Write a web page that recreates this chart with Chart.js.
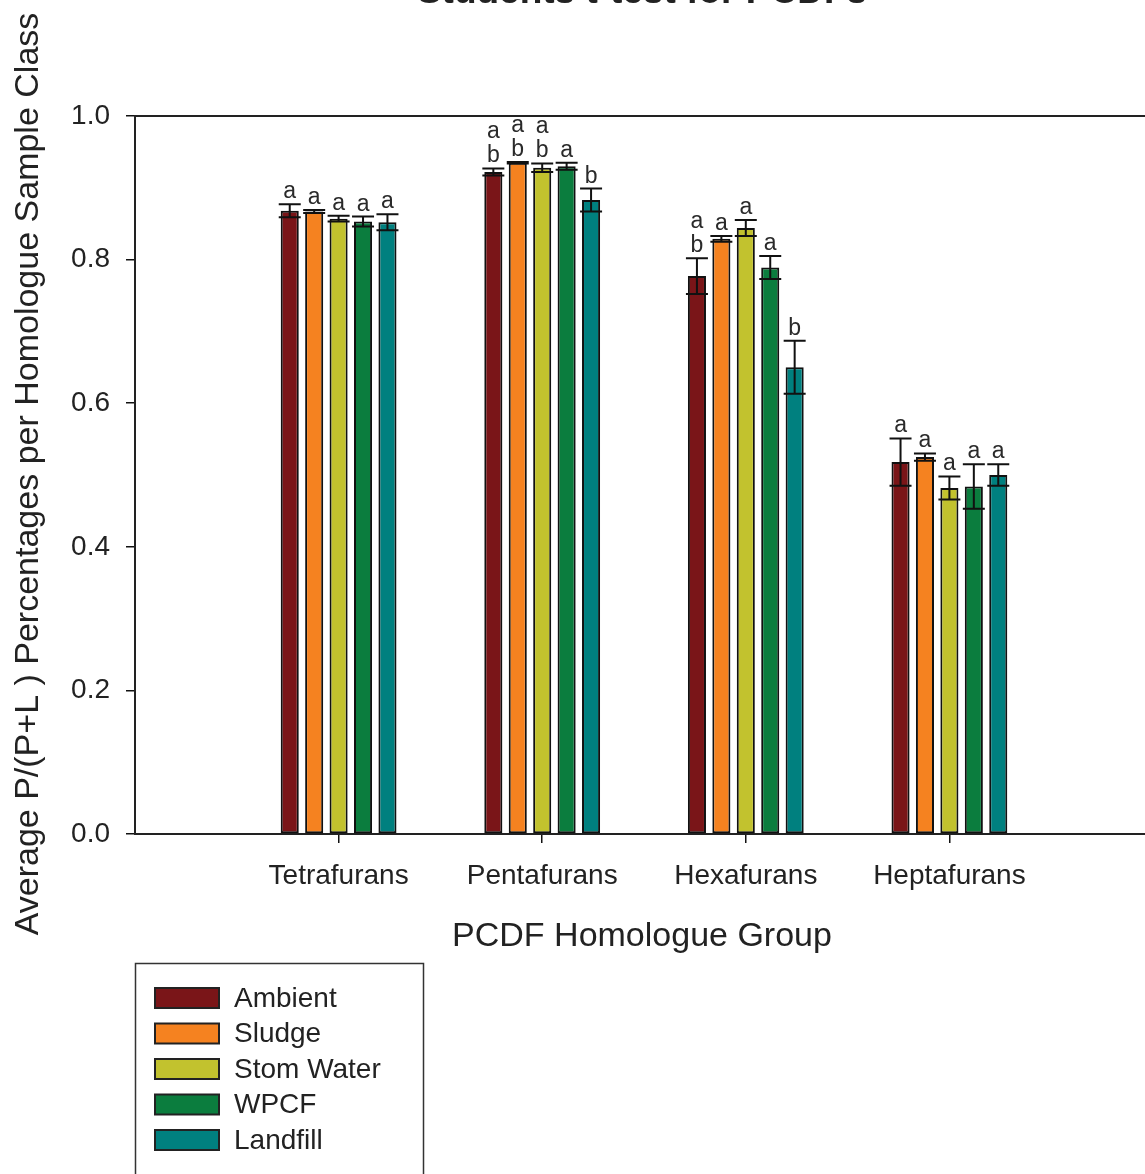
<!DOCTYPE html>
<html>
<head>
<meta charset="utf-8">
<script src="https://cdn.jsdelivr.net/npm/chart.js@4/dist/chart.umd.min.js"></script>
<style>
	body { margin: 0; background: #fff; overflow: hidden; }
	#wrap { width: 1145px; height: 1174px; overflow: hidden; position: relative; }
	#Chart1 { display: block; }
</style>
</head>
<body>
<div id="wrap"><canvas id="Chart1" width="1160" height="1174"></canvas></div>
<script>
// homologue groups (empty slots at the ends keep the axis wider than the bars)
const groups = ['Tetrafurans', 'Pentafurans', 'Hexafurans', 'Heptafurans'];
const classes = ['Ambient', 'Sludge', 'Stom Water', 'WPCF', 'Landfill'];
const colors = ['#7a1518', '#f58220', '#c2c22e', '#0b7d3e', '#00807f'];
const yTicks = [0.0, 0.2, 0.4, 0.6, 0.8, 1.0];

// mean P/(P+L) per group, per sample class
const ambient = [0.868, 0.922, 0.777, 0.518];
const sludge = [0.867, 0.935, 0.829, 0.525];
const stormWater = [0.857, 0.928, 0.844, 0.482];
const wpcf = [0.853, 0.930, 0.789, 0.484];
const landfill = [0.852, 0.883, 0.650, 0.500];

// standard errors
const ambientErr = [0.009, 0.005, 0.025, 0.033];
const sludgeErr = [0.002, 0.001, 0.004, 0.005];
const stormWaterErr = [0.004, 0.006, 0.011, 0.016];
const wpcfErr = [0.007, 0.005, 0.016, 0.031];
const landfillErr = [0.011, 0.016, 0.037, 0.015];

// t-test letters (top line first)
const ambientSig = ['a', 'a b', 'a b', 'a'];
const sludgeSig = ['a', 'a b', 'a', 'a'];
const stormWaterSig = ['a', 'a b', 'a', 'a'];
const wpcfSig = ['a', 'a', 'a', 'a'];
const landfillSig = ['a', 'b', 'b', 'a'];

const FONT = "'Liberation Sans', Arial, sans-serif";
const values = [ambient, sludge, stormWater, wpcf, landfill];
const errs = [ambientErr, sludgeErr, stormWaterErr, wpcfErr, landfillErr];
const sigs = [ambientSig, sludgeSig, stormWaterSig, wpcfSig, landfillSig];

const pad = arr => [null, ...arr, null];

const extras = {
	id: 'extras',
	afterDatasetsDraw(chart) {
		const ctx = chart.ctx;
		const y = chart.scales.y;
		const area = chart.chartArea;
		ctx.save();
		// top frame line
		ctx.strokeStyle = '#222';
		ctx.lineWidth = 2;
		ctx.beginPath();
		ctx.moveTo(area.left, area.top);
		ctx.lineTo(area.right, area.top);
		ctx.stroke();

		chart.data.datasets.forEach((ds, di) => {
			const meta = chart.getDatasetMeta(di);
			meta.data.forEach((bar, i) => {
				const v = ds.data[i];
				if (v == null) return;
				const e = errs[di][i - 1];
				const top = y.getPixelForValue(v + e);
				const bot = y.getPixelForValue(v - e);
				ctx.strokeStyle = '#111';
				ctx.lineWidth = 2;
				ctx.beginPath();
				ctx.moveTo(bar.x, top); ctx.lineTo(bar.x, bot);
				ctx.moveTo(bar.x - 11, top); ctx.lineTo(bar.x + 11, top);
				ctx.moveTo(bar.x - 11, bot); ctx.lineTo(bar.x + 11, bot);
				ctx.stroke();
				// letters
				const lines = sigs[di][i - 1].split(' ');
				ctx.fillStyle = '#2a2a2a';
				ctx.font = '23px ' + FONT;
				ctx.textAlign = 'center';
				ctx.textBaseline = 'alphabetic';
				lines.slice().reverse().forEach((t, k) => {
					ctx.fillText(t, bar.x, top - 6 - k * 24);
				});
			});
		});
		ctx.restore();
	},
	afterDraw(chart) {
		const ctx = chart.ctx;
		ctx.save();
		ctx.fillStyle = '#222';
		// title, mostly cut off by the top edge
		ctx.font = 'bold 37px ' + FONT;
		ctx.textAlign = 'center';
		ctx.textBaseline = 'alphabetic';
		ctx.fillText('Students t-test for PCDFs', 642, 3);
		// axis titles
		ctx.font = '34px ' + FONT;
		ctx.fillText('PCDF Homologue Group', 642, 946);
		ctx.translate(38, 474);
		ctx.rotate(-Math.PI / 2);
		ctx.fillText('Average P/(P+L ) Percentages per Homologue Sample Class', 0, 0);
		ctx.restore();

		// legend box
		ctx.save();
		ctx.strokeStyle = '#333';
		ctx.lineWidth = 1.5;
		ctx.strokeRect(135.5, 963.5, 288, 240);
		classes.forEach((c, i) => {
			const yc = 998 + i * 35.5;
			ctx.fillStyle = colors[i];
			ctx.fillRect(155, yc - 10, 64, 20);
			ctx.strokeStyle = '#222';
			ctx.lineWidth = 2;
			ctx.strokeRect(155, yc - 10, 64, 20);
			ctx.fillStyle = '#222';
			ctx.font = '28px ' + FONT;
			ctx.textAlign = 'left';
			ctx.textBaseline = 'middle';
			ctx.fillText(c, 234, yc + 1);
		});
		ctx.restore();
	}
};

const ctx = document.getElementById('Chart1');
const myChart = new Chart(ctx, {
	type: 'bar',
	data: {
		labels: ['', ...groups, ''],
		datasets: classes.map((c, i) => ({
			label: c,
			data: pad(values[i]),
			backgroundColor: colors[i],
			borderColor: '#111',
			borderWidth: 2,
			borderSkipped: false,
			categoryPercentage: 0.6,
			barPercentage: 0.74
		}))
	},
	options: {
		responsive: false,
		animation: false,
		layout: { padding: { top: 116, right: 7, left: 0, bottom: 0 } },
		plugins: {
			legend: { display: false },
			tooltip: { enabled: false },
			title: { display: false }
		},
		scales: {
			x: {
				offset: false,
				grid: {
					offset: false,
					drawOnChartArea: false,
					drawTicks: true,
					tickLength: 9,
					lineWidth: 1.5,
					color: c => (c.index === 0 || c.index === 5) ? 'rgba(0,0,0,0)' : '#111'
				},
				border: { display: true, color: '#222', width: 2 },
				ticks: {
					color: '#222',
					font: { family: FONT, size: 28 },
					padding: 16,
					maxRotation: 0,
					autoSkip: false
				},
				afterFit: s => { s.height = 340; s.paddingLeft = 0; s.paddingRight = 0; }
			},
			y: {
				min: 0,
				max: 1,
				afterBuildTicks: s => { s.ticks = yTicks.map(v => ({ value: v })); },
				grid: {
					drawOnChartArea: false,
					drawTicks: true,
					tickLength: 9,
					lineWidth: 1.5,
					color: '#111'
				},
				border: { display: true, color: '#222', width: 2 },
				ticks: {
					color: '#222',
					font: { family: FONT, size: 28 },
					padding: 16,
					callback: v => v.toFixed(1)
				},
				afterFit: s => { s.width = 135; }
			}
		}
	},
	plugins: [extras]
});
</script>
</body>
</html>
